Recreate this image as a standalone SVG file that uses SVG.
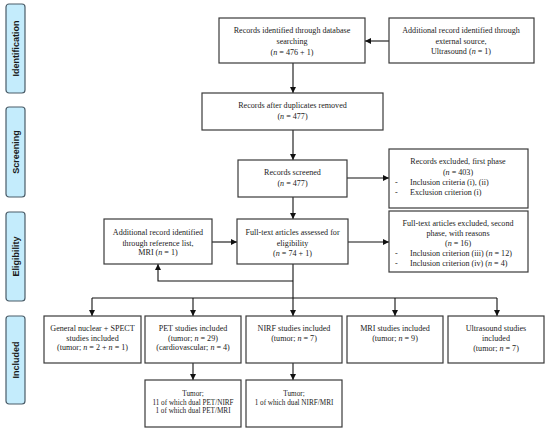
<svg xmlns="http://www.w3.org/2000/svg" width="550" height="431" viewBox="0 0 550 431">
<defs>
<marker id="ah" markerWidth="6" markerHeight="6" refX="6" refY="3" orient="auto" markerUnits="userSpaceOnUse">
<path d="M0,0 L6,3 L0,6 z" fill="#111"/>
</marker>
<style>
.box{fill:#fff;stroke:#3a3a3a;stroke-width:1.2}
.side{fill:#c4ecfc;stroke:#4a5c68;stroke-width:1.2}
.t{font-family:"Liberation Serif","Times New Roman",serif;font-size:8.1px;fill:#222;text-anchor:middle}
.l{font-family:"Liberation Serif","Times New Roman",serif;font-size:8.1px;fill:#222}
.s{font-family:"Liberation Serif","Times New Roman",serif;font-size:7.2px;fill:#222;text-anchor:middle}
.st{font-family:"Liberation Sans",Arial,sans-serif;font-size:9px;font-weight:bold;fill:#1a1a1a;text-anchor:middle}
.c{fill:none;stroke:#111;stroke-width:1.1}
.a{fill:none;stroke:#111;stroke-width:1.1;marker-end:url(#ah)}
</style>
</defs>
<rect width="550" height="431" fill="#fff"/>
<g id="stage-identification"><rect class="side" x="6" y="4" width="19" height="89" rx="3"/><text class="st" transform="translate(18.5,48.5) rotate(-90)">Identification</text></g>
<g id="stage-screening"><rect class="side" x="6" y="107" width="19" height="90" rx="3"/><text class="st" transform="translate(18.5,152) rotate(-90)">Screening</text></g>
<g id="stage-eligibility"><rect class="side" x="6" y="212" width="19" height="89" rx="3"/><text class="st" transform="translate(18.5,256.5) rotate(-90)">Eligibility</text></g>
<g id="stage-included"><rect class="side" x="6" y="316" width="19" height="88" rx="3"/><text class="st" transform="translate(18.5,360) rotate(-90)">Included</text></g>

<g id="connectors">
<line class="a" x1="389" y1="41" x2="365" y2="41"/>
<line class="a" x1="293" y1="63" x2="293" y2="93"/>
<line class="a" x1="293" y1="130" x2="293" y2="160"/>
<line class="a" x1="347" y1="178" x2="389" y2="178"/>
<line class="a" x1="293" y1="197" x2="293" y2="219"/>
<line class="a" x1="348" y1="242" x2="389" y2="242"/>
<line class="a" x1="212" y1="242" x2="237" y2="242"/>
<path class="c" d="M293,264 V298"/>
<path class="a" d="M293,281 H158 V264"/>
<path class="c" d="M92,298 H497"/>
<line class="a" x1="92" y1="298" x2="92" y2="316"/>
<line class="a" x1="193" y1="298" x2="193" y2="316"/>
<line class="a" x1="293" y1="298" x2="293" y2="316"/>
<line class="a" x1="395" y1="298" x2="395" y2="316"/>
<line class="a" x1="497" y1="298" x2="497" y2="316"/>
<line class="a" x1="193" y1="363" x2="193" y2="380"/>
<line class="a" x1="293" y1="363" x2="293" y2="380"/>
</g>

<g id="n-db">
<rect class="box" x="219" y="18" width="146" height="45"/>
<text class="t" x="292" y="33">Records identified through database</text>
<text class="t" x="292" y="44">searching</text>
<text class="t" x="292" y="55">(<tspan font-style="italic">n</tspan> = 476 + 1)</text>
</g>
<g id="n-external">
<rect class="box" x="389" y="18" width="145" height="45"/>
<text class="t" x="461" y="33">Additional record identified through</text>
<text class="t" x="461" y="43.5">external source,</text>
<text class="t" x="461" y="54">Ultrasound (<tspan font-style="italic">n</tspan> = 1)</text>
</g>
<g id="n-dup">
<rect class="box" x="202" y="93" width="181" height="37"/>
<text class="t" x="292.5" y="108">Records after duplicates removed</text>
<text class="t" x="292.5" y="119">(<tspan font-style="italic">n</tspan> = 477)</text>
</g>
<g id="n-screened">
<rect class="box" x="238" y="160" width="109" height="37"/>
<text class="t" x="292.5" y="175">Records screened</text>
<text class="t" x="292.5" y="186">(<tspan font-style="italic">n</tspan> = 477)</text>
</g>
<g id="n-excl1">
<rect class="box" x="389" y="149" width="139" height="59"/>
<text class="t" x="458" y="164">Records excluded, first phase</text>
<text class="t" x="458" y="174.5">(<tspan font-style="italic">n</tspan> = 403)</text>
<text class="l" x="395" y="185">-</text><text class="l" x="410" y="185">Inclusion criteria (i), (ii)</text>
<text class="l" x="395" y="195">-</text><text class="l" x="410" y="195">Exclusion criterion (i)</text>
</g>
<g id="n-fulltext">
<rect class="box" x="237" y="219" width="111" height="45"/>
<text class="t" x="292.5" y="235">Full-text articles assessed for</text>
<text class="t" x="292.5" y="245.5">eligibility</text>
<text class="t" x="292.5" y="256">(<tspan font-style="italic">n</tspan> = 74 + 1)</text>
</g>
<g id="n-excl2">
<rect class="box" x="389" y="211" width="139" height="61"/>
<text class="t" x="458" y="226">Full-text articles excluded, second</text>
<text class="t" x="458" y="236">phase, with reasons</text>
<text class="t" x="458" y="246">(<tspan font-style="italic">n</tspan> = 16)</text>
<text class="l" x="395" y="256">-</text><text class="l" x="410" y="256">Inclusion criterion (iii) (<tspan font-style="italic">n</tspan> = 12)</text>
<text class="l" x="395" y="266">-</text><text class="l" x="410" y="266">Inclusion criterion (iv) (<tspan font-style="italic">n</tspan> = 4)</text>
</g>
<g id="n-reflist">
<rect class="box" x="104" y="219" width="108" height="45"/>
<text class="t" x="158" y="235">Additional record identified</text>
<text class="t" x="158" y="245.5">through reference list,</text>
<text class="t" x="158" y="255">MRI (<tspan font-style="italic">n</tspan> = 1)</text>
</g>
<g id="n-nuclear">
<rect class="box" x="44" y="316" width="97" height="47"/>
<text class="t" x="92.5" y="331">General nuclear + SPECT</text>
<text class="t" x="92.5" y="340.5">studies included</text>
<text class="t" x="92.5" y="350">(tumor; <tspan font-style="italic">n</tspan> = 2 + <tspan font-style="italic">n</tspan> = 1)</text>
</g>
<g id="n-pet">
<rect class="box" x="145" y="316" width="96" height="47"/>
<text class="t" x="193" y="331">PET studies included</text>
<text class="t" x="193" y="340.5">(tumor; <tspan font-style="italic">n</tspan> = 29)</text>
<text class="t" x="193" y="350">(cardiovascular; <tspan font-style="italic">n</tspan> = 4)</text>
</g>
<g id="n-nirf">
<rect class="box" x="246" y="316" width="96" height="47"/>
<text class="t" x="294" y="331">NIRF studies included</text>
<text class="t" x="294" y="341">(tumor; <tspan font-style="italic">n</tspan> = 7)</text>
</g>
<g id="n-mri">
<rect class="box" x="347" y="316" width="96" height="47"/>
<text class="t" x="395" y="331">MRI studies included</text>
<text class="t" x="395" y="341">(tumor; <tspan font-style="italic">n</tspan> = 9)</text>
</g>
<g id="n-us">
<rect class="box" x="448" y="316" width="96" height="47"/>
<text class="t" x="496" y="331">Ultrasound studies</text>
<text class="t" x="496" y="341">included</text>
<text class="t" x="496" y="351">(tumor; <tspan font-style="italic">n</tspan> = 7)</text>
</g>
<g id="n-pet-tumor">
<rect class="box" x="145" y="380" width="96" height="47"/>
<text class="s" x="193" y="396">Tumor;</text>
<text class="s" x="193" y="404.5">11 of which dual PET/NIRF</text>
<text class="s" x="193" y="413">1 of which dual PET/MRI</text>
</g>
<g id="n-nirf-tumor">
<rect class="box" x="246" y="380" width="96" height="47"/>
<text class="s" x="294" y="396">Tumor;</text>
<text class="s" x="294" y="404.5">1 of which dual NIRF/MRI</text>
</g>
</svg>
